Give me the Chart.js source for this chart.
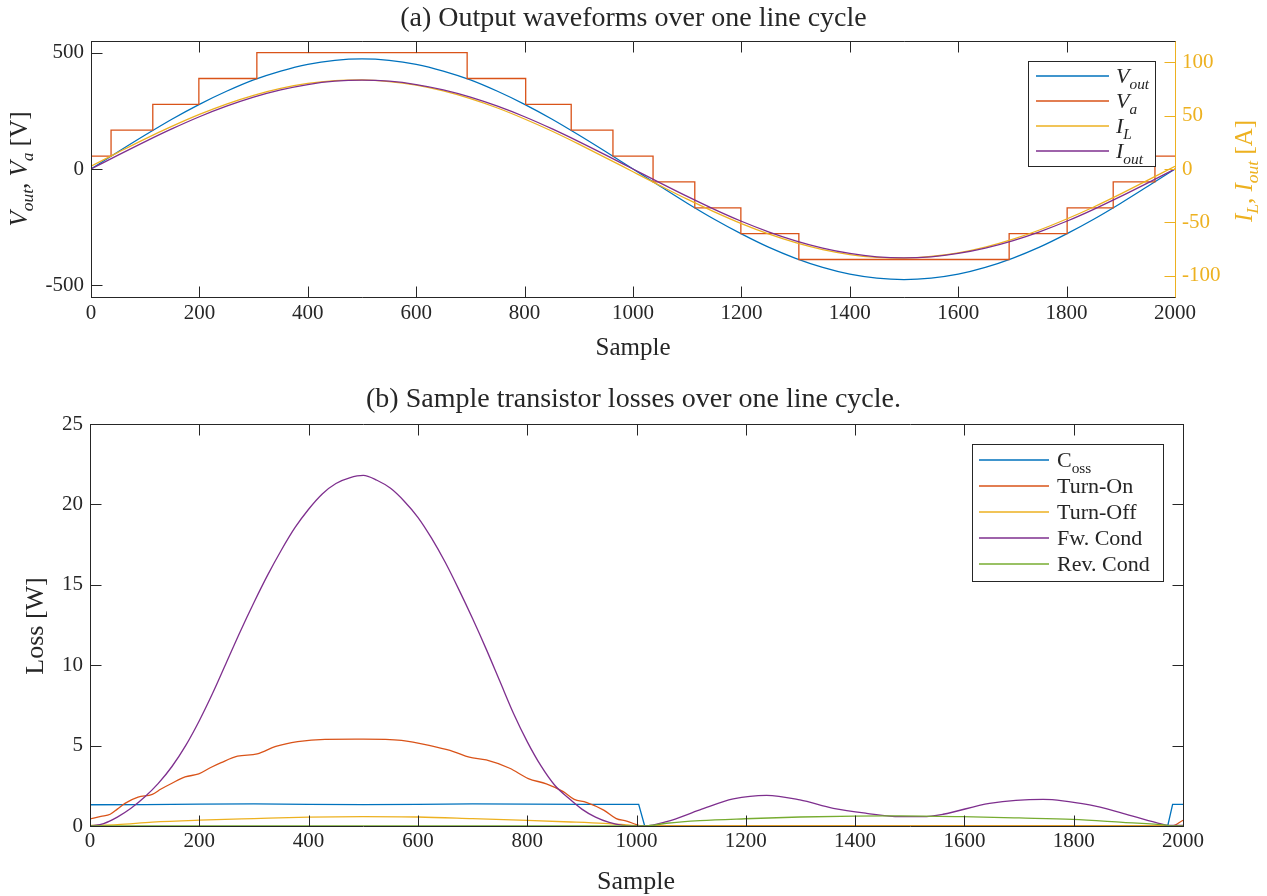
<!DOCTYPE html>
<html>
<head>
<meta charset="utf-8">
<title>Output waveforms and transistor losses</title>
<script src="https://cdn.jsdelivr.net/npm/chart.js@4.4.1/dist/chart.umd.min.js"></script>
<style>
  html, body { margin: 0; padding: 0; background: #fff; }
  #wrap { position: relative; width: 1267px; height: 896px; overflow: hidden; }
  canvas { position: absolute; left: 0; }
  #waves { top: 0; }
  #losses { top: 375px; }
</style>
</head>
<body>
<div id="wrap">
  <canvas id="waves" width="1267" height="375"></canvas>
  <canvas id="losses" width="1267" height="521"></canvas>
</div>
<script>
// ---------- tick values ----------
const sampleTicks = [0, 200, 400, 600, 800, 1000, 1200, 1400, 1600, 1800, 2000];
const voltTicks = [-500, 0, 500];
const ampTicks = [-100, -50, 0, 50, 100];
const lossTicks = [0, 5, 10, 15, 20, 25];

// ---------- (a) output waveforms, one value every 50 samples ----------
const waveX = [0, 50, 100, 150, 200, 250, 300, 350, 400, 450, 500, 550, 600, 650, 700, 750, 800, 850, 900, 950,
  1000, 1050, 1100, 1150, 1200, 1250, 1300, 1350, 1400, 1450, 1500, 1550, 1600, 1650, 1700, 1750, 1800, 1850, 1900, 1950, 2000];
const vOut = [0, 74, 146, 215, 278, 334, 383, 421, 450, 467, 473, 467, 450, 421, 383, 334, 278, 215, 146, 74,
  0, -74, -147, -216, -279, -336, -384, -423, -452, -469, -475, -469, -452, -423, -384, -336, -279, -216, -147, -74, 0];
const iL = [2.6, 15.6, 28.3, 40.2, 51.2, 60.9, 69.1, 75.6, 80.2, 82.8, 83.5, 82.0, 78.6, 73.2, 66.0, 57.2, 46.9, 35.6, 23.3, 10.5,
  -2.6, -15.6, -28.3, -40.2, -51.2, -60.9, -69.1, -75.6, -80.2, -82.8, -83.5, -82.0, -78.6, -73.2, -66.0, -57.2, -46.9, -35.6, -23.3, -10.5, 2.6];
const iOut = [0, 13.0, 25.7, 37.8, 49.0, 58.9, 67.4, 74.2, 79.2, 82.3, 83.3, 82.3, 79.2, 74.2, 67.4, 58.9, 49.0, 37.8, 25.7, 13.0,
  0, -13.0, -25.7, -37.8, -49.0, -58.9, -67.4, -74.2, -79.2, -82.3, -83.3, -82.3, -79.2, -74.2, -67.4, -58.9, -49.0, -37.8, -25.7, -13.0, 0];
// staircase: sample where each level starts, and the level held from there
const vaEdges = [0, 37, 114, 199, 306, 694, 802, 886, 963, 1037, 1114, 1199, 1306, 1694, 1801, 1886, 1963, 2000];
const vaLevels = [55.6, 166.7, 277.8, 388.9, 500, 388.9, 277.8, 166.7, 55.6, -55.6, -166.7, -277.8, -388.9, -277.8, -166.7, -55.6, 55.6, 55.6];

// ---------- (b) transistor losses [W] ----------
const cossX = [0, 100, 200, 300, 400, 500, 600, 700, 800, 900, 1004, 1015, 1972, 1981, 2000];
const cossY = [1.32, 1.33, 1.36, 1.37, 1.35, 1.33, 1.35, 1.37, 1.36, 1.35, 1.35, 0, 0, 1.35, 1.35];
const onX = [0, 20, 37, 50, 64, 88, 114, 130, 150, 174, 199, 220, 240, 270, 306, 340, 380, 430, 500, 570, 634, 665, 694,
  725, 768, 802, 835, 866, 886, 908, 940, 963, 982, 1000, 1008, 1980, 2000];
const onY = [0.44, 0.60, 0.73, 1.05, 1.41, 1.79, 1.97, 2.30, 2.66, 3.05, 3.24, 3.62, 3.94, 4.34, 4.48, 4.95, 5.25, 5.39, 5.40, 5.33, 4.90, 4.63, 4.28,
  4.11, 3.59, 2.95, 2.62, 2.14, 1.66, 1.47, 0.99, 0.46, 0.31, 0.08, 0, 0, 0.36];
const offX = [0, 50, 114, 200, 300, 400, 500, 600, 700, 800, 880, 940, 994, 1010, 2000];
const offY = [0.04, 0.09, 0.24, 0.36, 0.46, 0.55, 0.58, 0.56, 0.46, 0.35, 0.25, 0.16, 0.04, 0, 0];
const fwX = [0, 25, 50, 75, 100, 125, 150, 175, 200, 225, 250, 275, 300, 325, 350, 375, 400, 425, 450, 475,
  500, 525, 550, 575, 600, 625, 650, 675, 700, 725, 750, 775, 800, 825, 850, 875, 900, 925, 950, 975, 1000,
  1015, 1055, 1116, 1177, 1238, 1299, 1360, 1421, 1482, 1524, 1561, 1646, 1744, 1829, 1890, 1951, 1976, 2000];
const fwY = [0, 0.15, 0.55, 1.1, 1.8, 2.65, 3.7, 5.0, 6.55, 8.3, 10.2, 12.1, 13.9, 15.6, 17.15, 18.55, 19.7, 20.65, 21.3, 21.65,
  21.8, 21.5, 21.0, 20.2, 19.2, 17.9, 16.4, 14.7, 12.9, 11.0, 9.0, 7.0, 5.25, 3.75, 2.55, 1.75, 1.05, 0.55, 0.22, 0.04, 0,
  0, 0.27, 1.0, 1.68, 1.91, 1.62, 1.1, 0.79, 0.58, 0.58, 0.73, 1.41, 1.66, 1.31, 0.79, 0.21, 0.03, 0.04];
const revX = [0, 1015, 1055, 1116, 1199, 1299, 1399, 1482, 1597, 1700, 1798, 1890, 1970, 1980, 2000];
const revY = [0, 0, 0.17, 0.33, 0.45, 0.56, 0.62, 0.63, 0.58, 0.50, 0.41, 0.22, 0.05, 0, 0];

// ---------- styling ----------
const INK = '#262626';
const COL = { blue: '#0072BD', red: '#D95319', yellow: '#EDB120', purple: '#7E2F8E', green: '#77AC30' };
const SERIF = '"Liberation Serif", "Times New Roman", serif';
const LW = 1.3;

const pts = (xs, ys) => xs.map((x, i) => ({ x, y: ys[i] }));

// '$' toggles italic maths, '_{...}' is a subscript
function parseRich(src) {
  const out = [];
  let italic = false, m;
  const re = /\$|_\{([^}]*)\}|[^$_]+/g;
  while ((m = re.exec(src))) {
    if (m[0] === '$') italic = !italic;
    else if (m[1] !== undefined) out.push({ t: m[1], italic, sub: true });
    else out.push({ t: m[0], italic, sub: false });
  }
  return out;
}
function fontFor(p, size) {
  return (p.italic ? 'italic ' : '') + (p.sub ? size * 0.7 : size).toFixed(1) + 'px ' + SERIF;
}
// draws rich text whose visual middle sits at yc
function drawRich(ctx, src, x, yc, size, color, align) {
  const parts = parseRich(src);
  let w = 0;
  for (const p of parts) { ctx.font = fontFor(p, size); w += ctx.measureText(p.t).width; }
  let cx = align === 'center' ? x - w / 2 : x;
  const base = yc + size * 0.33;
  ctx.fillStyle = color;
  ctx.textBaseline = 'alphabetic';
  ctx.textAlign = 'left';
  for (const p of parts) {
    ctx.font = fontFor(p, size);
    ctx.fillText(p.t, cx, p.sub ? base + size * 0.24 : base);
    cx += ctx.measureText(p.t).width;
  }
}

// frame, inward ticks, titles and legend in the MATLAB style
const deco = {
  id: 'deco',
  afterDraw(chart, args, o) {
    const ctx = chart.ctx, a = chart.chartArea;
    const L = Math.round(a.left) + 0.5, R = Math.round(a.right) + 0.5;
    const T = Math.round(a.top) + 0.5, B = Math.round(a.bottom) + 0.5;
    const tl = o.tickLength;
    ctx.save();
    ctx.lineWidth = 1;
    const xs = chart.scales.x;
    ctx.strokeStyle = INK;
    ctx.beginPath();
    for (const t of xs.ticks) {
      const px = Math.round(xs.getPixelForValue(t.value)) + 0.5;
      ctx.moveTo(px, B); ctx.lineTo(px, B - tl);
      ctx.moveTo(px, T); ctx.lineTo(px, T + tl);
    }
    ctx.stroke();
    for (const ax of o.yAxes) {
      const s = chart.scales[ax.id];
      ctx.strokeStyle = ax.color;
      ctx.beginPath();
      for (const t of s.ticks) {
        const py = Math.round(s.getPixelForValue(t.value)) + 0.5;
        if (ax.left) { ctx.moveTo(L, py); ctx.lineTo(L + tl, py); }
        if (ax.right) { ctx.moveTo(R, py); ctx.lineTo(R - tl, py); }
      }
      ctx.stroke();
    }
    const edge = (c, x1, y1, x2, y2) => {
      ctx.strokeStyle = c; ctx.beginPath(); ctx.moveTo(x1, y1); ctx.lineTo(x2, y2); ctx.stroke();
    };
    edge(o.frame.top, L - 0.5, T, R + 0.5, T);
    edge(o.frame.bottom, L - 0.5, B, R + 0.5, B);
    edge(o.frame.left, L, T, L, B);
    edge(o.frame.right, R, T, R, B);

    // legend box in the upper right corner
    const lg = o.legend;
    const bx = Math.round(a.right) - lg.inset - lg.w, by = Math.round(a.top) + lg.inset;
    ctx.fillStyle = '#fff';
    ctx.fillRect(bx, by, lg.w, lg.h);
    ctx.strokeStyle = INK; ctx.lineWidth = 1;
    ctx.strokeRect(bx + 0.5, by + 0.5, lg.w, lg.h);
    chart.data.datasets.forEach((ds, i) => {
      const y = by + lg.first + i * lg.row;
      ctx.strokeStyle = ds.borderColor; ctx.lineWidth = ds.borderWidth;
      ctx.beginPath(); ctx.moveTo(bx + lg.line0, y); ctx.lineTo(bx + lg.line1, y); ctx.stroke();
      drawRich(ctx, ds.label, bx + lg.text, y, lg.size, INK, 'left');
    });

    // chart title and axis titles
    drawRich(ctx, o.title.text, chart.width / 2, o.title.y, o.title.size, INK, 'center');
    for (const at of o.axisTitles) {
      ctx.save();
      ctx.translate(at.x, at.y);
      if (at.rotate) ctx.rotate(-Math.PI / 2);
      drawRich(ctx, at.text, 0, 0, at.size, at.color, 'center');
      ctx.restore();
    }
    ctx.restore();
  }
};

const tickFont = { family: SERIF, size: 21 };
const plainNum = v => String(v);
const fixedTicks = arr => scale => { scale.ticks = arr.map(v => ({ value: v })); };
const line = (label, data, color, axis, extra) => Object.assign({
  label, data, borderColor: color, backgroundColor: color, borderWidth: LW,
  pointRadius: 0, pointHoverRadius: 0, fill: false, yAxisID: axis,
  cubicInterpolationMode: 'monotone'
}, extra || {});

Chart.defaults.font.family = SERIF;

// ---------- (a) ----------
new Chart(document.getElementById('waves'), {
  type: 'line',
  data: {
    datasets: [
      line('$V_{out}$', pts(waveX, vOut), COL.blue, 'y', { order: 4 }),
      line('$V_{a}$', pts(vaEdges, vaLevels), COL.red, 'y', { order: 3, stepped: true, cubicInterpolationMode: 'default', tension: 0 }),
      line('$I_{L}$', pts(waveX, iL), COL.yellow, 'y1', { order: 2 }),
      line('$I_{out}$', pts(waveX, iOut), COL.purple, 'y1', { order: 1 })
    ]
  },
  options: {
    responsive: false, animation: false, devicePixelRatio: 1,
    layout: { padding: { left: 0, right: 0, top: 41, bottom: 0 } },
    events: [],
    plugins: {
      legend: { display: false }, tooltip: { enabled: false }, title: { display: false },
      deco: {
        tickLength: 11,
        frame: { top: INK, bottom: INK, left: INK, right: COL.yellow },
        yAxes: [{ id: 'y', color: INK, left: true }, { id: 'y1', color: COL.yellow, right: true }],
        legend: { inset: 20, w: 127, h: 105, first: 15, row: 25, line0: 8, line1: 81, text: 88, size: 22 },
        title: { text: '(a) Output waveforms over one line cycle', y: 17, size: 28 },
        axisTitles: [
          { text: 'Sample', x: 633, y: 347, size: 25, color: INK },
          { text: '$V_{out}$, $V_{a}$ [V]', x: 19, y: 169, size: 25, color: INK, rotate: true },
          { text: '$I_{L}$, $I_{out}$ [A]', x: 1244, y: 171, size: 25, color: COL.yellow, rotate: true }
        ]
      }
    },
    scales: {
      x: {
        type: 'linear', min: 0, max: 2000,
        afterBuildTicks: fixedTicks(sampleTicks),
        afterFit: s => { s.height = 375 - 297; },
        grid: { display: false, drawTicks: false }, border: { display: false },
        ticks: { font: tickFont, color: INK, padding: 4, maxRotation: 0, autoSkip: false, callback: plainNum }
      },
      y: {
        type: 'linear', position: 'left', min: -550, max: 550,
        afterBuildTicks: fixedTicks(voltTicks),
        afterFit: s => { s.width = 91; },
        grid: { display: false, drawTicks: false }, border: { display: false },
        ticks: { font: tickFont, color: INK, padding: 7, callback: plainNum }
      },
      y1: {
        type: 'linear', position: 'right', min: -120, max: 120,
        afterBuildTicks: fixedTicks(ampTicks),
        afterFit: s => { s.width = 1267 - 1175; },
        grid: { display: false, drawTicks: false }, border: { display: false },
        ticks: { font: tickFont, color: COL.yellow, padding: 7, callback: plainNum }
      }
    }
  },
  plugins: [deco]
});

// ---------- (b) ----------
new Chart(document.getElementById('losses'), {
  type: 'line',
  data: {
    datasets: [
      line('C_{oss}', pts(cossX, cossY), COL.blue, 'y', { order: 5, cubicInterpolationMode: 'default', tension: 0 }),
      line('Turn-On', pts(onX, onY), COL.red, 'y', { order: 4 }),
      line('Turn-Off', pts(offX, offY), COL.yellow, 'y', { order: 3 }),
      line('Fw. Cond', pts(fwX, fwY), COL.purple, 'y', { order: 2 }),
      line('Rev. Cond', pts(revX, revY), COL.green, 'y', { order: 1 })
    ]
  },
  options: {
    responsive: false, animation: false, devicePixelRatio: 1,
    layout: { padding: { left: 0, right: 1267 - 1183, top: 49, bottom: 0 } },
    events: [],
    plugins: {
      legend: { display: false }, tooltip: { enabled: false }, title: { display: false },
      deco: {
        tickLength: 11,
        frame: { top: INK, bottom: INK, left: INK, right: INK },
        yAxes: [{ id: 'y', color: INK, left: true, right: true }],
        legend: { inset: 20, w: 191, h: 137, first: 16, row: 26, line0: 7, line1: 77, text: 85, size: 22 },
        title: { text: '(b) Sample transistor losses over one line cycle.', y: 22.5, size: 28 },
        axisTitles: [
          { text: 'Sample', x: 636, y: 505, size: 26, color: INK },
          { text: 'Loss [W]', x: 34, y: 251, size: 26, color: INK, rotate: true }
        ]
      }
    },
    scales: {
      x: {
        type: 'linear', min: 0, max: 2000,
        afterBuildTicks: fixedTicks(sampleTicks),
        afterFit: s => { s.height = 521 - 451; },
        grid: { display: false, drawTicks: false }, border: { display: false },
        ticks: { font: tickFont, color: INK, padding: 3, maxRotation: 0, autoSkip: false, callback: plainNum }
      },
      y: {
        type: 'linear', position: 'left', min: 0, max: 25,
        afterBuildTicks: fixedTicks(lossTicks),
        afterFit: s => { s.width = 90; },
        grid: { display: false, drawTicks: false }, border: { display: false },
        ticks: { font: tickFont, color: INK, padding: 7, callback: plainNum }
      }
    }
  },
  plugins: [deco]
});
</script>
</body>
</html>
